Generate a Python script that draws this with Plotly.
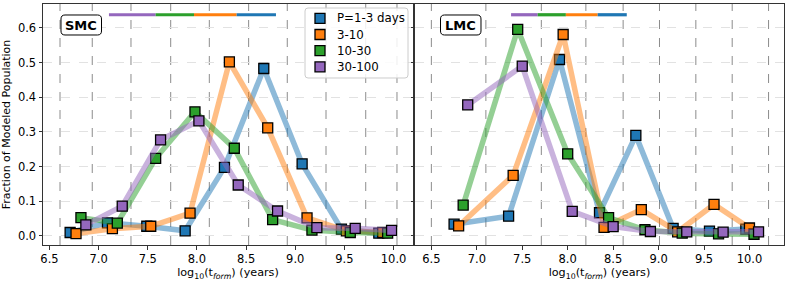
import plotly.graph_objects as go

# ---------------- data ----------------
series_names = ["P=1-3 days", "3-10", "10-30", "30-100"]
colors = ["#1f77b4", "#ff7f0e", "#2ca02c", "#9467bd"]

# SMC (left panel)
smc_x = [
    [6.71, 7.09, 7.49, 7.88, 8.28, 8.68, 9.07, 9.47, 9.85],
    [6.77, 7.14, 7.53, 7.93, 8.33, 8.72, 9.12, 9.52, 9.89],
    [6.82, 7.19, 7.58, 7.98, 8.38, 8.77, 9.17, 9.56, 9.94],
    [6.87, 7.24, 7.63, 8.02, 8.42, 8.82, 9.22, 9.61, 9.98],
]
smc_y = [
    [0.010, 0.038, 0.028, 0.015, 0.198, 0.483, 0.208, 0.020, 0.008],
    [0.007, 0.021, 0.028, 0.066, 0.502, 0.312, 0.052, 0.015, 0.010],
    [0.053, 0.037, 0.224, 0.358, 0.253, 0.047, 0.017, 0.010, 0.008],
    [0.032, 0.086, 0.277, 0.332, 0.147, 0.072, 0.024, 0.022, 0.016],
]
smc_edges = [6.607, 6.935, 7.329, 7.733, 8.126, 8.526, 8.919, 9.313, 9.717, 10.035]
smc_bar = [7.105, 7.580, 7.970, 8.404, 8.804]   # purple, green, orange, blue segments

# LMC (right panel)
lmc_x = [
    [6.75, 7.35, 7.91, 8.35, 8.75, 9.16, 9.56, 9.96],
    [6.80, 7.40, 7.95, 8.40, 8.81, 9.21, 9.61, 10.00],
    [6.85, 7.45, 8.00, 8.45, 8.85, 9.26, 9.66, 10.05],
    [6.90, 7.50, 8.05, 8.50, 8.91, 9.31, 9.71, 10.10],
]
lmc_y = [
    [0.034, 0.057, 0.509, 0.067, 0.290, 0.022, 0.014, 0.020],
    [0.029, 0.175, 0.581, 0.025, 0.076, 0.012, 0.091, 0.023],
    [0.089, 0.596, 0.237, 0.053, 0.018, 0.008, 0.006, 0.005],
    [0.378, 0.490, 0.071, 0.027, 0.013, 0.012, 0.011, 0.012],
]
lmc_edges = [6.50, 7.10, 7.71, 8.20, 8.61, 9.01, 9.41, 9.81, 10.21]
lmc_bar = [7.377, 7.67, 7.98, 8.33, 8.65]

panel_labels = ["SMC", "LMC"]
x_ticks = [6.5, 7.0, 7.5, 8.0, 8.5, 9.0, 9.5, 10.0]
y_ticks = [0.0, 0.1, 0.2, 0.3, 0.4, 0.5, 0.6]
bar_y = 0.638

# ---------------- layout geometry ----------------
W, H = 789, 283
ML, MR, MT, MB = 43, 5, 4, 38
PW = W - ML - MR
PH = H - MT - MB
FONT = "DejaVu Sans"


def px2paper(px, py):
    return (px - ML) / PW, (H - MB - py) / PH


def rounded_box(x0, y0, x1, y1, r=4):
    def P(x, y):
        a, b = px2paper(x, y)
        return f"{a:.5f},{b:.5f}"
    return (f"M {P(x0 + r, y0)} L {P(x1 - r, y0)} Q {P(x1, y0)} {P(x1, y0 + r)} "
            f"L {P(x1, y1 - r)} Q {P(x1, y1)} {P(x1 - r, y1)} "
            f"L {P(x0 + r, y1)} Q {P(x0, y1)} {P(x0, y1 - r)} "
            f"L {P(x0, y0 + r)} Q {P(x0, y0)} {P(x0 + r, y0)} Z")


fig = go.Figure()

panels = [
    (smc_x, smc_y, smc_edges, smc_bar, "x", "y"),
    (lmc_x, lmc_y, lmc_edges, lmc_bar, "x2", "y2"),
]

shapes = []
for (xs, ys, edges, bar, xa, ya) in panels:
    for e in edges:
        shapes.append(dict(type="line", xref=xa, yref="paper", x0=e, x1=e, y0=0, y1=1,
                           line=dict(color="#7f7f7f", width=0.9, dash="dash"), layer="below"))
    bar_colors = [colors[3], colors[2], colors[1], colors[0]]
    for i in range(4):
        shapes.append(dict(type="line", xref=xa, yref=ya, x0=bar[i], x1=bar[i + 1],
                           y0=bar_y, y1=bar_y, line=dict(color=bar_colors[i], width=3.2)))
    for i in range(4):
        fig.add_trace(go.Scatter(x=xs[i], y=ys[i], mode="lines", xaxis=xa, yaxis=ya,
                                 line=dict(color=colors[i], width=5.5), opacity=0.5,
                                 showlegend=False, hoverinfo="skip"))
        fig.add_trace(go.Scatter(x=xs[i], y=ys[i], mode="markers", xaxis=xa, yaxis=ya,
                                 name=series_names[i], showlegend=False,
                                 marker=dict(symbol="square", size=10, color=colors[i],
                                             line=dict(color="black", width=1.3))))

annotations = []

# rounded panel-label boxes
for lab, (bx0, bx1) in zip(panel_labels, [(61, 101.5), (440.5, 481)]):
    shapes.append(dict(type="path", xref="paper", yref="paper", path=rounded_box(bx0, 15, bx1, 35),
                       line=dict(color="black", width=1), fillcolor="white"))
    ax_, ay_ = px2paper((bx0 + bx1) / 2, 25.5)
    annotations.append(dict(text=f"<b>{lab}</b>", x=ax_, y=ay_, xref="paper", yref="paper",
                            showarrow=False, xanchor="center", yanchor="middle",
                            font=dict(family=FONT, size=13, color="black")))

# legend (drawn as a framed key in the left panel)
shapes.append(dict(type="path", xref="paper", yref="paper", path=rounded_box(305, 8, 408, 78, r=3),
                   line=dict(color="#cccccc", width=1), fillcolor="rgba(255,255,255,0.85)"))
leg_rows = [18.3, 34.5, 50.7, 66.9]
for i, ry in enumerate(leg_rows):
    a0, b0 = px2paper(315, ry + 5)
    a1, b1 = px2paper(325, ry - 5)
    shapes.append(dict(type="rect", xref="paper", yref="paper", x0=a0, y0=b0, x1=a1, y1=b1,
                       fillcolor=colors[i], line=dict(color="black", width=1.3)))
    tx, ty = px2paper(334.5, ry)
    annotations.append(dict(text=series_names[i], x=tx, y=ty, xref="paper", yref="paper",
                            showarrow=False, xanchor="left", yanchor="middle",
                            font=dict(family=FONT, size=11.8, color="black")))

xtitle = "log<sub>10</sub>(t<sub><i>form</i></sub>) (years)"

left_end = 370 / PW
right_start = 372 / PW

axis_common = dict(showline=True, linecolor="#333333", linewidth=1, mirror=True,
                   ticks="outside", ticklen=3.5, tickcolor="#333333", tickwidth=0.8,
                   tickfont=dict(family=FONT, size=11.5, color="black"), zeroline=False,
                   automargin=False)

fig.update_layout(
    width=W, height=H,
    margin=dict(l=ML, r=MR, t=MT, b=MB),
    paper_bgcolor="white", plot_bgcolor="white",
    font=dict(family=FONT, color="black"),
    showlegend=False,
    xaxis=dict(domain=[0, left_end], range=[6.434, 10.198], tickvals=x_ticks,
               ticktext=[f"{v:.1f}" for v in x_ticks], showgrid=False, anchor="y",
               title=dict(text=xtitle, font=dict(family=FONT, size=11.2), standoff=2), **axis_common),
    xaxis2=dict(domain=[right_start, 1], range=[6.32, 10.38], tickvals=x_ticks,
                ticktext=[f"{v:.1f}" for v in x_ticks], showgrid=False, anchor="y2",
                title=dict(text=xtitle, font=dict(family=FONT, size=11.2), standoff=2), **axis_common),
    yaxis=dict(range=[-0.026, 0.669], tickvals=y_ticks, ticktext=[f"{v:.1f}" for v in y_ticks],
               anchor="x", showgrid=True, gridcolor="#e2e2e2", gridwidth=0.8, griddash="dash",
               title=dict(text="Fraction of Modeled Population", font=dict(family=FONT, size=11), standoff=5),
               **axis_common),
    yaxis2=dict(range=[-0.026, 0.669], anchor="x2", matches="y", tickvals=y_ticks,
                showticklabels=False, showgrid=True, gridcolor="#e2e2e2", gridwidth=0.8, griddash="dash",
                **axis_common),
    shapes=shapes,
    annotations=annotations,
)

fig.write_html("out.html", config={"displayModeBar": False},
               post_script="document.body.style.margin='0px';")
